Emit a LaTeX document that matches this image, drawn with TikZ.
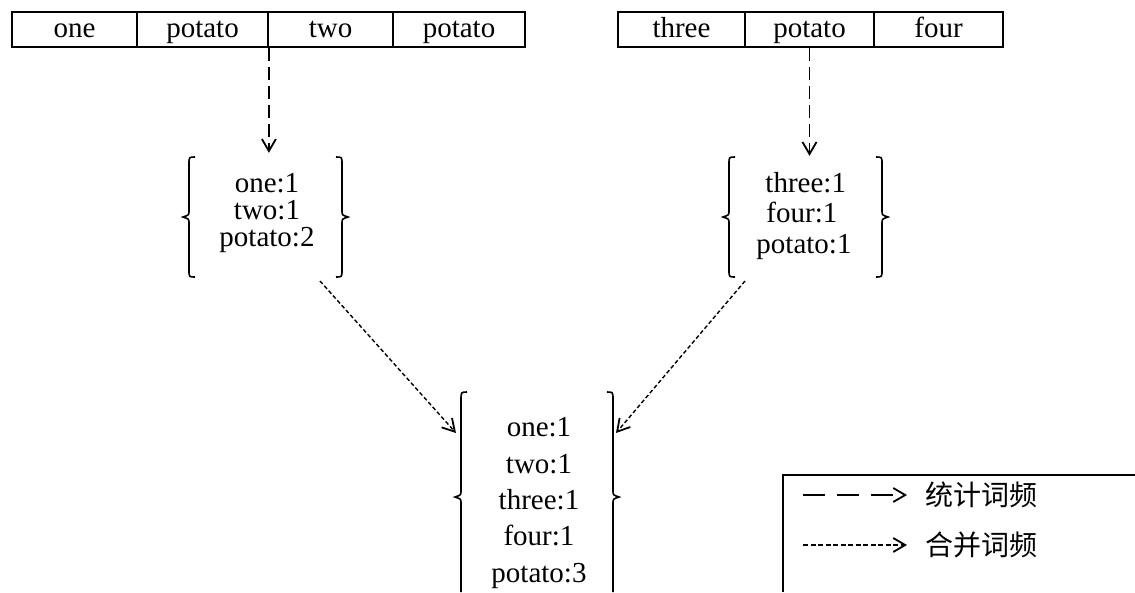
\documentclass[tikz,border=0pt]{standalone}
\usepackage{fontspec}
\setmainfont{Liberation Serif}
\newfontfamily\cjk{Noto Sans CJK SC}
\usetikzlibrary{arrows.meta}
\begin{document}
\begin{tikzpicture}[x=1pt,y=-1pt,
  cell/.style={draw,line width=1.8pt,inner sep=0pt,minimum height=35pt,text height=20pt,text depth=5pt,font=\fontsize{29}{29}\selectfont},
  grp/.style={inner sep=0pt,align=center},
  brace/.style={line width=1.6pt},
  tip/.style={-{Straight Barb[length=12pt,width=14pt,line width=1.8pt]}},
  stat/.style={tip,line width=1.7pt,dash pattern=on 13pt off 6pt},
  merge/.style={tip,line width=1.4pt,dash pattern=on 4pt off 2.5pt},
  leg/.style={line width=2pt}]
\useasboundingbox (0,0) rectangle (1135,592);
% top tables
\node[cell,minimum width=125pt] (a1) at (74.5,29.5) {one};
\node[cell,minimum width=131pt] (a2) at (202.5,29.5) {potato};
\node[cell,minimum width=125pt] (a3) at (330.5,29.5) {two};
\node[cell,minimum width=132pt] (a4) at (459,29.5) {potato};
\node[cell,minimum width=127pt] (b1) at (681.5,29.5) {three};
\node[cell,minimum width=129pt] (b2) at (809.5,29.5) {potato};
\node[cell,minimum width=129pt] (b3) at (938.5,29.5) {four};
% groups
\node[grp,minimum width=155pt,minimum height=120pt,font=\fontsize{29}{27}\selectfont] (g1) at (267,213) {one:1\\two:1\\potato:2};
\node[grp,minimum width=156pt,minimum height=120pt,align=left,font=\fontsize{29}{30.5}\selectfont] (g2) at (804,216) {\hspace*{9pt}three:1\\\hspace*{10pt}four:1\\potato:1};
\node[grp,minimum width=156pt,minimum height=200pt,font=\fontsize{29}{36.3}\selectfont] (g3) at (539,503) {one:1\\two:1\\three:1\\four:1\\potato:3};
% braces left group
\draw[brace] (195,157) .. controls (189,157) .. (189,164) -- (189,211) .. controls (189,215) .. (183,217) .. controls (189,219) .. (189,223) -- (189,270) .. controls (189,277) .. (195,277);
\draw[brace] (336,157) .. controls (342,157) .. (342,164) -- (342,211) .. controls (342,215) .. (348,217) .. controls (342,219) .. (342,223) -- (342,270) .. controls (342,277) .. (336,277);
% braces right group
\draw[brace] (735,157) .. controls (729,157) .. (729,164) -- (729,211) .. controls (729,215) .. (723,217) .. controls (729,219) .. (729,223) -- (729,270) .. controls (729,277) .. (735,277);
\draw[brace] (876,157) .. controls (882,157) .. (882,164) -- (882,211) .. controls (882,215) .. (888,217) .. controls (882,219) .. (882,223) -- (882,270) .. controls (882,277) .. (876,277);
% braces middle group
\draw[brace] (467,392) .. controls (461,392) .. (461,400) -- (461,491) .. controls (461,495) .. (455,497) .. controls (461,499) .. (461,503) -- (461,592);
\draw[brace] (607,392) .. controls (613,392) .. (613,400) -- (613,491) .. controls (613,495) .. (619,497) .. controls (613,499) .. (613,503) -- (613,592);
% count arrows
\draw[stat] (a2.south east) -- (a2.south east |- g1.north);
\draw[stat] (b2.south) -- (b2.south |- g2.north);
% merge arrows
\coordinate (m1s) at (320,281);
\coordinate (m1e) at (456,433);
\coordinate (m2s) at (745,281);
\coordinate (m2e) at (616,433);
\draw[merge] (m1s) -- (m1e);
\draw[merge] (m2s) -- (m2e);
% legend
\draw[leg] (783,592) -- (783,475) -- (1135,475);
\coordinate (l1s) at (803,495);
\coordinate (l1e) at (907,495);
\coordinate (l2s) at (803,545);
\coordinate (l2e) at (907,545);
\draw[tip,line width=1.8pt,dash pattern=on 22pt off 12pt] (l1s) -- (l1e);
\draw[tip,line width=1.4pt,dash pattern=on 5pt off 2.5pt] (l2s) -- (l2e);
\node[anchor=west,inner sep=0pt,font=\cjk\fontsize{28}{28}\selectfont] (t1) at (925,495) {统计词频};
\node[anchor=west,inner sep=0pt,font=\cjk\fontsize{28}{28}\selectfont] (t2) at (925,545) {合并词频};
\end{tikzpicture}
\end{document}
